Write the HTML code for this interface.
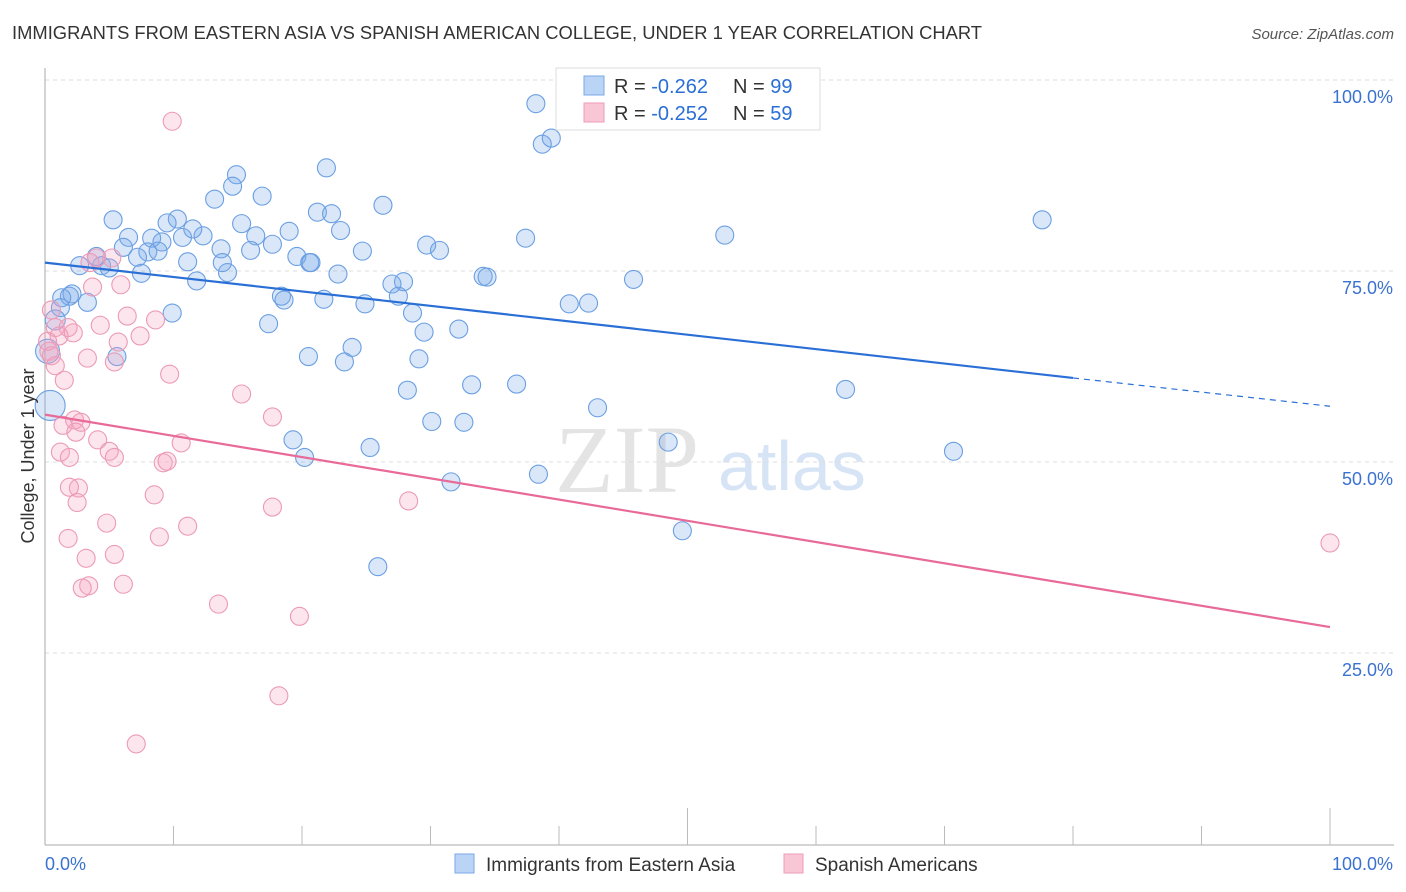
<!DOCTYPE html>
<html><head><meta charset="utf-8"><style>
body{margin:0;background:#fff;font-family:"Liberation Sans",sans-serif}
svg{display:block}
</style></head><body>
<svg id="chart" width="1406" height="892" viewBox="0 0 1406 892">
<text x="12" y="39" font-size="18" fill="#333" textLength="970" lengthAdjust="spacingAndGlyphs">IMMIGRANTS FROM EASTERN ASIA VS SPANISH AMERICAN COLLEGE, UNDER 1 YEAR CORRELATION CHART</text>
<text x="1394" y="39" font-size="15" fill="#555" font-style="italic" text-anchor="end">Source: ZipAtlas.com</text>
<text x="555" y="492" font-size="96" fill="#e4e4e4" font-family="Liberation Serif,serif">ZIP</text>
<text x="718" y="490" font-size="70" fill="#d6e4f5">atlas</text>
<g id="grid"></g>
<g id="axes"></g>
<g id="pts"></g>
<g id="lines"></g>
<text transform="translate(34,456) rotate(-90)" font-size="18" fill="#333" text-anchor="middle">College, Under 1 year</text>
<g>
<rect x="556" y="68" width="264" height="62" fill="#fff" stroke="#ddd"/>
<rect x="584" y="76" width="20" height="19" fill="#b9d4f5" stroke="#7aa8e6"/>
<rect x="584" y="103" width="20" height="19" fill="#f9c6d6" stroke="#ee9bb7"/>
<text x="614" y="93" font-size="20" fill="#333">R = <tspan fill="#2a6fd6">-0.262</tspan></text>
<text x="733" y="93" font-size="20" fill="#333">N = <tspan fill="#2a6fd6">99</tspan></text>
<text x="614" y="120" font-size="20" fill="#333">R = <tspan fill="#2a6fd6">-0.252</tspan></text>
<text x="733" y="120" font-size="20" fill="#333">N = <tspan fill="#2a6fd6">59</tspan></text>
</g>
<g>
<rect x="455" y="854" width="19" height="19" fill="#b9d4f5" stroke="#7aa8e6"/>
<text x="486" y="871" font-size="19" fill="#333">Immigrants from Eastern Asia</text>
<rect x="784" y="854" width="19" height="19" fill="#f9c6d6" stroke="#ee9bb7"/>
<text x="815" y="871" font-size="19" fill="#333">Spanish Americans</text>
</g>
</svg>
<script>
const yTicks=[25,50,75,100];
const xTickLabels=["0.0%","100.0%"];
const blueX=[38.2,38.7,39.4,21.9,14.9,14.6,16.9,13.2,26.3,5.3,10.3,9.5,21.2,22.3,15.3,37.4,52.9,77.6,19,6.5,8.3,10.7,12.3,23,11.5,16.4,17.7,29.7,30.7,16,13.7,9.1,19.6,20.6,6.1,8,8.8,11.1,7.2,4.4,4,2.7,14.2,13.8,20.7,24.7,22.8,27.9,27,34.1,34.4,45.8,40.8,42.3,7.5,5,11.8,18.4,18.6,21.7,27.5,24.9,28.6,29.5,32.2,1.9,2.1,3.3,1.3,1.2,9.9,17.4,23.9,5.6,20.5,29.1,23.3,33.2,28.2,36.7,62.3,43,30.1,32.6,19.3,25.3,20.2,48.5,70.7,38.4,31.6,49.6,25.9,0.4,0.2,0.8];
const blueY=[96.9,91.6,92.4,88.5,87.6,86.1,84.8,84.4,83.6,81.7,81.8,81.3,82.7,82.5,81.2,79.3,79.7,81.7,80.2,79.4,79.3,79.4,79.6,80.3,80.5,79.6,78.5,78.4,77.7,77.7,77.9,78.8,76.9,76.1,78.1,77.5,77.6,76.2,76.8,75.7,76.9,75.7,74.8,76.1,76.1,77.6,74.6,73.6,73.3,74.3,74.2,73.9,70.7,70.8,74.7,75.4,73.7,71.7,71.2,71.3,71.7,70.7,69.5,67,67.4,71.7,72,70.9,71.5,70.2,69.5,68.1,65,63.8,63.8,63.5,63.1,60.1,59.4,60.2,59.5,57.1,55.3,55.2,52.9,51.9,50.6,52.6,51.4,48.4,47.4,41,36.3,57.4,64.5,68.6];
const blueR=[9,9,9,9,9,9,9,9,9,9,9,9,9,9,9,9,9,9,9,9,9,9,9,9,9,9,9,9,9,9,9,9,9,9,9,9,9,9,9,9,9,9,9,9,9,9,9,9,9,9,9,9,9,9,9,9,9,9,9,9,9,9,9,9,9,9,9,9,9,9,9,9,9,9,9,9,9,9,9,9,9,9,9,9,9,9,9,9,9,9,9,9,9,15,12,10];
const pinkX=[9.9,4,5.9,3.7,0.8,1.8,1.1,2.2,6.4,8.6,7.4,4.3,5.7,0.3,0.5,0.8,3.3,5.4,1.5,9.7,15.3,17.7,2.3,2.8,1.4,2.4,4.1,1.2,1.9,5,5.4,9.2,9.5,10.6,2.6,1.9,2.5,8.5,28.3,17.7,4.8,11.1,8.9,1.8,5.4,3.2,3.4,2.9,6.1,13.5,19.8,18.2,7.1,100,3.5,0.2,0.5,5.2];
const pinkY=[94.6,76.7,73.2,72.9,67.6,67.6,66.5,66.9,69.1,68.6,66.5,67.9,65.7,64.5,63.9,62.6,63.6,63.1,60.7,61.5,58.9,55.9,55.5,55.2,54.8,53.9,52.9,51.3,50.6,51.4,50.6,49.9,50.1,52.5,46.6,46.7,44.7,45.7,44.9,44.1,42,41.6,40.2,40,37.9,37.4,33.8,33.5,34,31.4,29.8,19.4,13.1,39.4,76.1,65.8,69.9,76.7];
const blueTrend=[76.1,61];
const blueDashEnd=57.3;
const pinkTrend=[56.2,28.4];
const X0=45,X1=1330,YB=844,YT=80;
const sx=v=>X0+(X1-X0)*v/100;
const sy=v=>YB-(YB-YT)*v/100;
const NS="http://www.w3.org/2000/svg";
function mk(tag,attrs,parent){const e=document.createElementNS(NS,tag);for(const k in attrs)e.setAttribute(k,attrs[k]);parent.appendChild(e);return e;}
const grid=document.getElementById('grid'),axes=document.getElementById('axes'),pts=document.getElementById('pts'),lines=document.getElementById('lines');
yTicks.forEach(t=>{
 const l=mk('line',{x1:X0,x2:1394,y1:sy(t),y2:sy(t),stroke:'#ddd','stroke-dasharray':'4,4'},grid);
 
 
 const tx=mk('text',{x:1393,y:sy(t)+23,'font-size':18,fill:'#3a72d0','text-anchor':'end'},grid);
 tx.textContent=t.toFixed(1)+'%';
 
 
});
const ax=mk('line',{x1:X0,x2:X0,y1:68,y2:YB+1,stroke:'#aaa'},axes);


const bx=mk('line',{x1:X0,x2:1394,y1:YB+1,y2:YB+1,stroke:'#aaa'},axes);


for(let i=1;i<=10;i++){
 const long=(i==5||i==10);
 const tk=mk('line',{x1:sx(i*10),x2:sx(i*10),y1:long?808:826,y2:YB+1,stroke:'#bbb'},axes);
 
 
}
[[0,'start',45],[100,'end',1393]].forEach((a,i)=>{
 const t=mk('text',{x:a[2],y:870,'font-size':18,fill:'#3a72d0','text-anchor':a[1]},axes);
 t.textContent=xTickLabels[i];
 
 
});
blueX.forEach((v,i)=>{
 const c=mk('circle',{cx:sx(v),cy:sy(blueY[i]),r:blueR[i],fill:'rgba(120,170,235,0.28)',stroke:'#6b9fe2','stroke-width':1.1},pts);
 
 
});
pinkX.forEach((v,i)=>{
 const c=mk('circle',{cx:sx(v),cy:sy(pinkY[i]),r:9,fill:'rgba(245,160,190,0.28)',stroke:'#ec9ab6','stroke-width':1.1},pts);
 
 
});
const bl=mk('line',{x1:sx(0),y1:sy(blueTrend[0]),x2:sx(80),y2:sy(blueTrend[1]),stroke:'#2a6fd6','stroke-width':2.2},lines);


const bd=mk('line',{x1:sx(80),y1:sy(blueTrend[1]),x2:sx(100),y2:sy(blueDashEnd),stroke:'#2a6fd6','stroke-width':1.2,'stroke-dasharray':'6,5'},lines);


const pl=mk('line',{x1:sx(0),y1:sy(pinkTrend[0]),x2:sx(100),y2:sy(pinkTrend[1]),stroke:'#e86a98','stroke-width':2.2},lines);


</script>
</body></html>
